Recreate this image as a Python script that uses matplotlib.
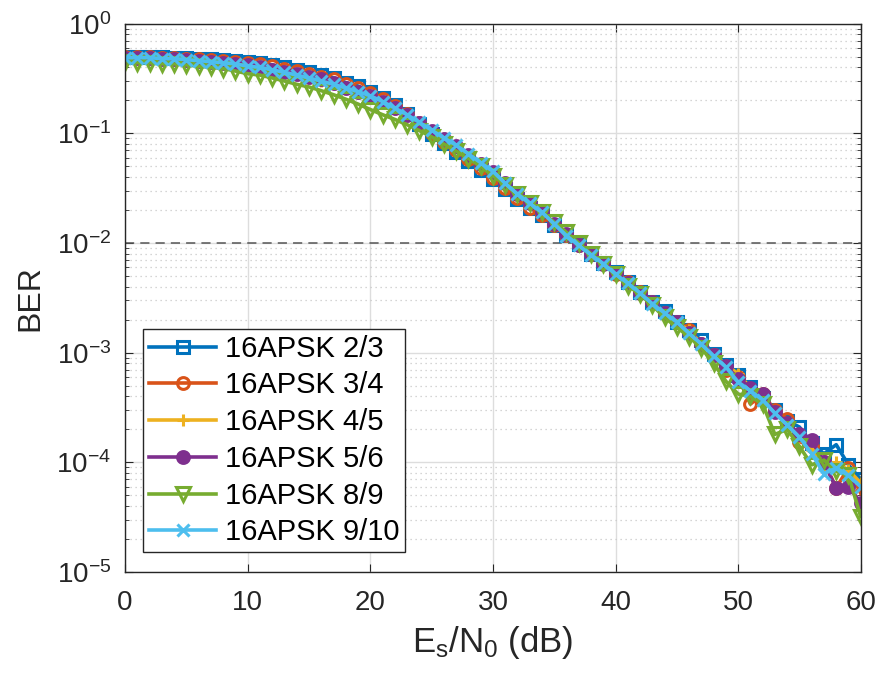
import numpy as np
import matplotlib
matplotlib.use("Agg")
import matplotlib.pyplot as plt
from matplotlib.ticker import LogLocator, NullFormatter, FixedLocator

plt.rcParams["font.family"] = ["Liberation Sans", "DejaVu Sans"]
plt.rcParams["mathtext.fontset"] = "custom"
plt.rcParams["mathtext.rm"] = "Liberation Sans"
plt.rcParams["mathtext.it"] = "Liberation Sans"

# ─── Data ───
snr_db = list(range(0, 61))

ber_2_3 = [0.50, 0.50, 0.50, 0.50, 0.49, 0.49, 0.48, 0.48, 0.47, 0.46,
           0.45, 0.44, 0.42, 0.40, 0.38, 0.36, 0.34, 0.32, 0.29, 0.27,
           0.24, 0.21, 0.18, 0.150, 0.122, 0.098, 0.081, 0.068, 0.056, 0.046,
           0.038, 0.031, 0.025, 0.021, 0.018, 0.0145, 0.0118, 0.0097, 0.0080, 0.0066,
           0.0054, 0.0044, 0.0036, 0.0029, 0.0024, 0.0019, 0.0016, 0.0013, 9.8e-4, 7.8e-4,
           6.2e-4, 4.9e-4, 3.9e-4, 3.0e-4, 2.4e-4, 2.1e-4, 1.5e-4, 1.2e-4, 1.45e-4, 9.5e-5, 7.0e-5]

ber_3_4 = [0.50, 0.50, 0.50, 0.49, 0.49, 0.48, 0.48, 0.47, 0.46, 0.45,
           0.44, 0.43, 0.41, 0.39, 0.37, 0.35, 0.33, 0.31, 0.28, 0.26,
           0.235, 0.205, 0.178, 0.150, 0.124, 0.100, 0.084, 0.070, 0.058, 0.048,
           0.039, 0.032, 0.026, 0.021, 0.018, 0.0145, 0.0118, 0.0096, 0.0080, 0.0066,
           0.0052, 0.0044, 0.0036, 0.0029, 0.0023, 0.0019, 0.0016, 0.0012, 9.5e-4, 7.0e-4,
           6.0e-4, 3.4e-4, 4.2e-4, 3.0e-4, 2.5e-4, 1.55e-4, 1.4e-4, 1.0e-4, 5.9e-5, 8.9e-5, 5.2e-5]

ber_4_5 = [0.49, 0.49, 0.48, 0.48, 0.47, 0.47, 0.46, 0.45, 0.44, 0.42,
           0.41, 0.39, 0.37, 0.36, 0.34, 0.32, 0.30, 0.28, 0.26, 0.235,
           0.21, 0.19, 0.166, 0.145, 0.124, 0.106, 0.090, 0.077, 0.064, 0.054,
           0.044, 0.035, 0.028, 0.023, 0.019, 0.0150, 0.0118, 0.0096, 0.0079, 0.0066,
           0.0053, 0.0043, 0.0035, 0.0029, 0.0023, 0.0019, 0.0016, 0.0012, 9.6e-4, 7.8e-4,
           6.4e-4, 4.8e-4, 3.8e-4, 2.9e-4, 2.2e-4, 1.75e-4, 1.3e-4, 9.0e-5, 1.0e-4, 8.5e-5, 6.5e-5]

ber_5_6 = [0.49, 0.49, 0.49, 0.48, 0.48, 0.47, 0.46, 0.45, 0.44, 0.43,
           0.42, 0.40, 0.38, 0.36, 0.35, 0.33, 0.31, 0.29, 0.26, 0.24,
           0.22, 0.195, 0.17, 0.148, 0.125, 0.105, 0.089, 0.076, 0.064, 0.053,
           0.044, 0.035, 0.028, 0.023, 0.019, 0.0150, 0.0120, 0.0096, 0.0079, 0.0065,
           0.0053, 0.0043, 0.0035, 0.0029, 0.0023, 0.0019, 0.0015, 0.0012, 9.5e-4, 7.6e-4,
           5.8e-4, 4.8e-4, 4.2e-4, 2.9e-4, 2.3e-4, 1.8e-4, 1.6e-4, 1.0e-4, 5.8e-5, 6.0e-5, 4.3e-5]

ber_8_9 = [0.45, 0.44, 0.44, 0.43, 0.43, 0.42, 0.41, 0.40, 0.39, 0.37,
           0.35, 0.34, 0.32, 0.30, 0.28, 0.265, 0.245, 0.225, 0.205, 0.185,
           0.165, 0.148, 0.134, 0.120, 0.106, 0.093, 0.080, 0.069, 0.059, 0.050,
           0.041, 0.034, 0.028, 0.023, 0.019, 0.0155, 0.0125, 0.0100, 0.0080, 0.0064,
           0.0052, 0.0041, 0.0034, 0.0027, 0.0021, 0.0017, 0.0014, 0.0011, 8.0e-4, 5.5e-4,
           4.2e-4, 4.0e-4, 3.4e-4, 1.8e-4, 2.0e-4, 1.4e-4, 9.5e-5, 1.05e-4, 8.3e-5, 7.6e-5, 3.2e-5]

ber_9_10 = [0.49, 0.49, 0.49, 0.48, 0.48, 0.47, 0.46, 0.45, 0.44, 0.43,
            0.41, 0.40, 0.38, 0.36, 0.34, 0.32, 0.30, 0.28, 0.26, 0.24,
            0.22, 0.195, 0.17, 0.148, 0.126, 0.107, 0.091, 0.078, 0.065, 0.054,
            0.045, 0.035, 0.028, 0.023, 0.019, 0.015, 0.0117, 0.0095, 0.0078, 0.0065,
            0.0052, 0.0043, 0.0035, 0.0028, 0.0023, 0.0019, 0.0015, 0.0012, 9.3e-4, 7.4e-4,
            5.4e-4, 4.5e-4, 3.7e-4, 2.8e-4, 2.2e-4, 1.7e-4, 1.2e-4, 7.9e-5, 8.9e-5, 7.6e-5, 6.0e-5]

labels = ["16APSK 2/3", "16APSK 3/4", "16APSK 4/5", "16APSK 5/6", "16APSK 8/9", "16APSK 9/10"]
series = [ber_2_3, ber_3_4, ber_4_5, ber_5_6, ber_8_9, ber_9_10]
target_ber = 1e-2

# MATLAB default colour order
colors = ["#0072BD", "#D95319", "#EDB120", "#7E2F8E", "#77AC30", "#4DBEEE"]
markers = ["s", "o", "+", "o", "v", "x"]
filled = [False, False, False, True, False, False]

fig = plt.figure(figsize=(8.81, 6.77), dpi=100)
ax = fig.add_axes([0.142, 0.155, 0.835, 0.810])

for y, lbl, c, m, f in zip(series, labels, colors, markers, filled):
    ax.semilogy(snr_db, y, color=c, lw=2.6, marker=m, ms=8.5 if m != "v" else 9.5,
                mew=2.2, mfc=c if f else "none", mec=c, label=lbl)

ax.axhline(target_ber, color="#555555", ls=(0, (6, 4)), lw=1.1, zorder=1)

ax.set_xlim(0, 60)
ax.set_ylim(1e-5, 1)
ax.set_xticks(range(0, 61, 10))
ax.yaxis.set_major_locator(FixedLocator([1e-5, 1e-4, 1e-3, 1e-2, 1e-1, 1]))
ax.yaxis.set_minor_locator(LogLocator(base=10, subs=np.arange(2, 10), numticks=20))
ax.yaxis.set_minor_formatter(NullFormatter())
ax.set_yticklabels([r"$10^{-5}$", r"$10^{-4}$", r"$10^{-3}$", r"$10^{-2}$", r"$10^{-1}$", r"$10^{0}$"])

ax.grid(True, which="major", color="#dddddd", lw=1.0, ls="-")
ax.grid(True, which="minor", axis="y", color="#c8c8c8", lw=0.9, ls=(0, (1, 3)))
ax.set_axisbelow(True)

for s in ax.spines.values():
    s.set_color("#262626")
    s.set_linewidth(1.0)
ax.tick_params(which="both", direction="in", top=True, right=True, colors="#262626",
               labelsize=20)
ax.tick_params(axis="x", pad=13)
ax.tick_params(axis="y", pad=10)
ax.tick_params(which="major", length=6)
ax.tick_params(which="minor", length=3)

ax.set_xlabel(r"E$_\mathregular{s}$/N$_\mathregular{0}$ (dB)", fontsize=25, color="#262626",
              labelpad=6)
ax.set_ylabel("BER", fontsize=23, color="#262626", labelpad=8)

leg = ax.legend(loc="lower left", bbox_to_anchor=(0.0245, 0.036), borderaxespad=0,
                fontsize=21, handlelength=2.3, handletextpad=0.3, labelspacing=0.3,
                borderpad=0.2, fancybox=False, framealpha=1.0, edgecolor="#262626")
leg.get_frame().set_linewidth(1.0)

fig.savefig("out.png", dpi=100)
